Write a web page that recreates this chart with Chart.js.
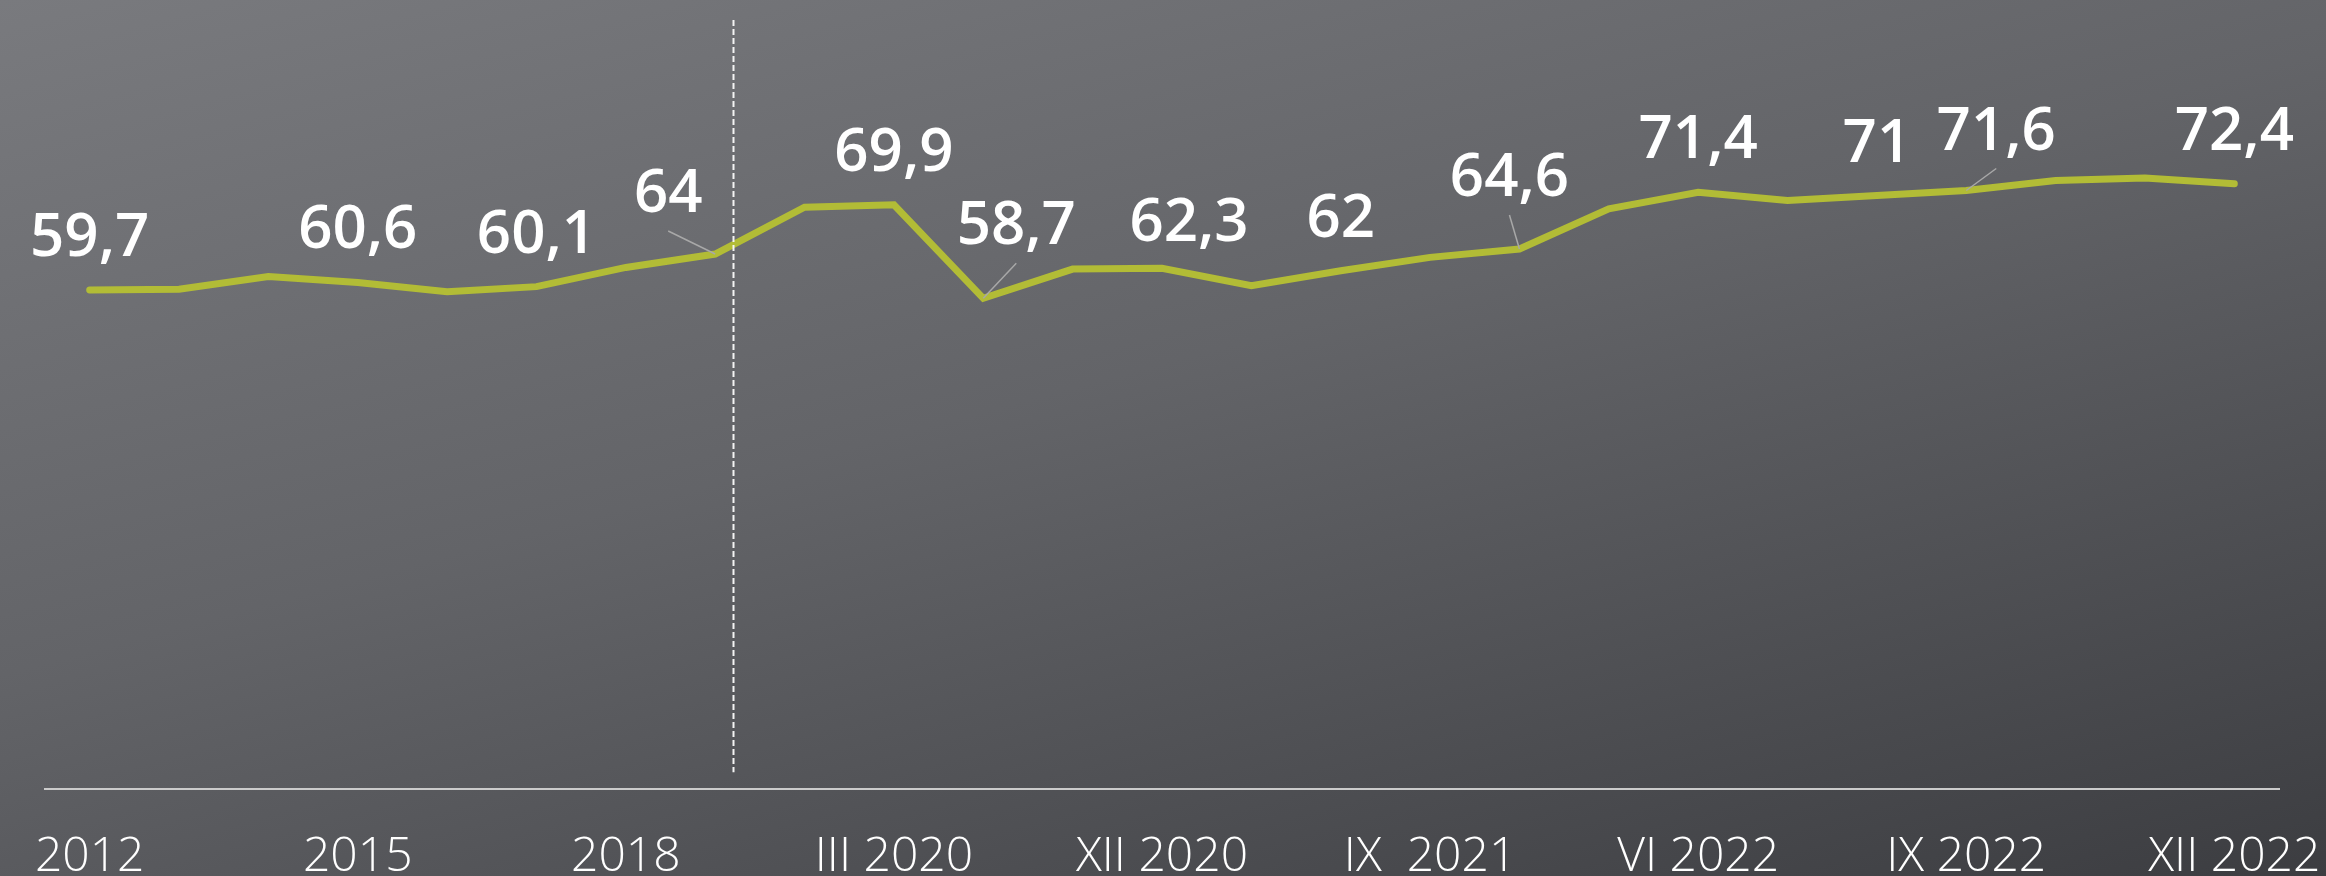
<!DOCTYPE html>
<html>
<head>
<meta charset="utf-8">
<script src="https://cdn.jsdelivr.net/npm/chart.js@4/dist/chart.umd.min.js"></script>
<style>
	html, body {
		margin: 0;
		padding: 0;
	}
	#frame {
		width: 2326px;
		height: 876px;
		overflow: hidden;
		background: linear-gradient(165deg, #797a7e 0%, #636468 45%, #3c3d41 100%);
	}
	#box {
		position: relative;
		width: 2326px;
		height: 917px;
	}
</style>
</head>
<body>
<div id="frame">
	<div id="box"><canvas id="chart"></canvas></div>
</div>
<script>
// Categories along the x axis (yearly, then quarterly, then monthly)
const categories = [
	'2012', '2013', '2014', '2015', '2016', '2017', '2018', '2019',
	'XII 2019', 'III 2020', 'VI 2020', 'IX 2020', 'XII 2020',
	'III 2021', 'VI 2021', 'IX  2021', 'XII 2021',
	'III 2022', 'VI 2022', 'VII 2022', 'VIII 2022', 'IX 2022', 'X 2022', 'XI 2022', 'XII 2022',
];

// Only these categories get a tick label
const tickLabels = ['2012', '2015', '2018', 'III 2020', 'XII 2020', 'IX  2021', 'VI 2022', 'IX 2022', 'XII 2022'];

const values = [
	59.7, 59.8, 61.3, 60.6, 59.5, 60.1, 62.4, 64,
	69.6, 69.9, 58.7, 62.2, 62.3,
	60.2, 62, 63.6, 64.6,
	69.4, 71.4, 70.4, 71, 71.6, 72.8, 73.1, 72.4,
];

// Indexes of points that carry a value label
const labelledPoints = [0, 3, 5, 7, 9, 10, 12, 14, 16, 18, 20, 21, 24];

// Draws the value labels, their leader lines and the dashed divider
const annotations = {
	id: 'annotations',
	afterDatasetsDraw(chart, args, opts) {
		const ctx = chart.ctx;
		const meta = chart.getDatasetMeta(0);
		const xScale = chart.scales.x;
		const yScale = chart.scales.y;

		// dashed divider between 2019 and the quarterly data
		const x0 = xScale.getPixelForValue(opts.dividerAt);
		const x1 = xScale.getPixelForValue(opts.dividerAt + 1);
		const dx = Math.round(x0 + (x1 - x0) * opts.dividerFrac) + 0.5;
		ctx.save();
		ctx.strokeStyle = '#f4f4f4';
		ctx.lineWidth = 2;
		ctx.setLineDash([6, 3]);
		ctx.beginPath();
		ctx.moveTo(dx, chart.chartArea.top);
		ctx.lineTo(dx, yScale.getPixelForValue(2));
		ctx.stroke();
		ctx.restore();

		ctx.save();
		ctx.font = opts.font;
		ctx.fillStyle = '#ffffff';
		ctx.textAlign = 'center';
		ctx.textBaseline = 'alphabetic';
		labelledPoints.forEach((i) => {
			const pt = meta.data[i];
			const off = opts.offsets[i] || [0, -34];
			const lx = pt.x + off[0];
			const ly = pt.y + off[1];
			if (opts.leaders.includes(i)) {
				ctx.save();
				ctx.strokeStyle = '#a8a8a8';
				ctx.lineWidth = 1.5;
				ctx.beginPath();
				ctx.moveTo(lx, ly + 19);
				ctx.lineTo(pt.x, pt.y);
				ctx.stroke();
				ctx.restore();
			}
			ctx.fillText(String(values[i]).replace('.', ','), lx, ly);
		});
		ctx.restore();
	},
};

const ctx = document.getElementById('chart');

new Chart(ctx, {
	type: 'line',
	data: {
		labels: categories,
		datasets: [
			{
				data: values,
				borderColor: '#b2bc36',
				borderWidth: 7,
				borderCapStyle: 'round',
				borderJoinStyle: 'miter',
				pointRadius: 0,
				fill: false,
				tension: 0,
			},
		],
	},
	options: {
		responsive: true,
		maintainAspectRatio: false,
		animation: false,
		layout: {
			padding: {top: 20, left: 45, right: 47, bottom: 0},
		},
		plugins: {
			legend: {display: false},
			tooltip: {enabled: false},
			annotations: {
				dividerAt: 7,
				dividerFrac: 0.2,
				font: '600 60px "Open Sans"',
				leaders: [7, 10, 16, 21],
				offsets: {
					7: [-47, -42],
					10: [33, -54],
					12: [27, -27],
					16: [-10, -53],
					21: [30, -41],
				},
			},
		},
		scales: {
			x: {
				offset: true,
				grid: {display: false},
				border: {display: true, color: '#cbcbcb', width: 2},
				ticks: {
					autoSkip: false,
					maxRotation: 0,
					padding: 0,
					color: '#ffffff',
					// tall line height pushes the labels down below the axis
					font: {family: '"Open Sans"', size: 48, weight: '300', lineHeight: 2.5},
					callback: function (value) {
						const label = this.getLabelForValue(value);
						return tickLabels.includes(label) ? label : '';
					},
				},
			},
			y: {
				display: false,
				min: 0,
				max: 92,
			},
		},
	},
	plugins: [annotations],
});
</script>
</body>
</html>
